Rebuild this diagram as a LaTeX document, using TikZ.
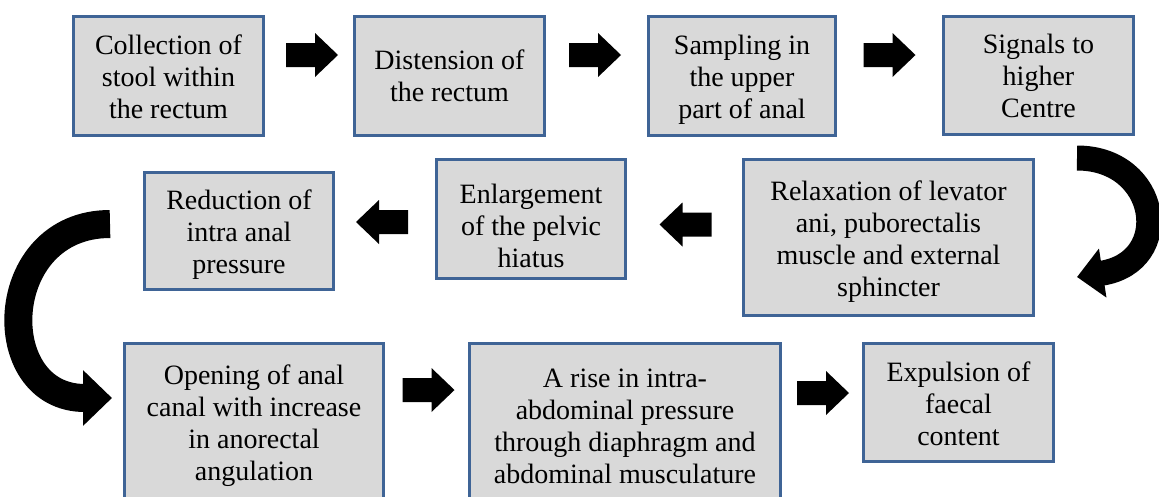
\documentclass[tikz,border=0pt]{standalone}
\usepackage{fontspec}
\setmainfont{Liberation Serif}
\usetikzlibrary{arrows.meta}
\definecolor{boxblue}{HTML}{3F6496}
\definecolor{boxgrey}{HTML}{D9D9D9}
\newcommand\firstup[1]{\rule{0pt}{#1pt}}
\tikzset{
  stepbox/.style={draw=boxblue, fill=boxgrey, line width=3pt, align=center,
    font=\fontsize{28}{32}\selectfont, inner sep=0pt},
  pics/blockarrow/.style={code={
    \fill[black] (-26,-12) -- (3,-12) -- (3,-22) -- (26,0) -- (3,22) -- (3,12) -- (-26,12) -- cycle;}},
  bentarrow/.style={black}
}
\begin{document}
\begin{tikzpicture}[x=1pt,y=-1pt]
\useasboundingbox (0,0) rectangle (1159,496);
% row 1
\node[stepbox, minimum width=190pt, minimum height=119pt] (b1) at (168.5,76)
  {\firstup{21}Collection of\\stool within\\the rectum};
\node[stepbox, minimum width=190pt, minimum height=119pt] (b2) at (449.5,76)
  {Distension of\\the rectum};
\node[stepbox, minimum width=187pt, minimum height=119pt] (b3) at (742,76)
  {\firstup{27}Sampling in\\the upper\\part of anal};
\node[stepbox, minimum width=190pt, minimum height=118pt] (b4) at (1038.5,75.5)
  {Signals to\\higher\\Centre};
% row 2
\node[stepbox, minimum width=290pt, minimum height=156pt] (b5) at (888.5,237.5)
  {\firstup{27}Relaxation of levator\\ani, puborectalis\\muscle and external\\sphincter};
\node[stepbox, minimum width=189pt, minimum height=119pt] (b6) at (531,219)
  {\firstup{34}Enlargement\\of the pelvic\\hiatus};
\node[stepbox, minimum width=189pt, minimum height=117pt] (b7) at (239,231)
  {\firstup{26}Reduction of\\intra anal\\pressure};
% row 3
\node[stepbox, minimum width=259pt, minimum height=165pt] (b8) at (254,426)
  {Opening of anal\\canal with increase\\in anorectal\\angulation};
\node[stepbox, minimum width=311pt, minimum height=165pt] (b9) at (625,426)
  {A rise in intra-\\abdominal pressure\\through diaphragm and\\abdominal musculature};
\node[stepbox, minimum width=190pt, minimum height=118pt] (b10) at (958.5,402.5)
  {\firstup{23}Expulsion of\\faecal\\content};
% straight block arrows
\pic (a1) at (312,55) {blockarrow};
\pic (a2) at (595,55) {blockarrow};
\pic (a3) at (889.5,55) {blockarrow};
\pic[rotate=180] (a5) at (685.5,224.5) {blockarrow};
\pic[rotate=180] (a6) at (382,222) {blockarrow};
\pic (a8) at (428.5,390) {blockarrow};
\pic (a9) at (823,393) {blockarrow};
% bent arrows
\coordinate (r1) at (1077,158);
\coordinate (r2) at (1077,277);
\coordinate (l1) at (110,224);
\coordinate (l2) at (112,398);
\draw[bentarrow, line width=25pt, -{Triangle[length=26pt,width=48pt]}]
  (r1) .. controls (1160,158) and (1175,262) .. (r2);
\draw[bentarrow, line width=28pt, -{Triangle[length=29pt,width=54pt]}]
  (l1) .. controls (-5,224) and (-10,398) .. (l2);
\end{tikzpicture}
\end{document}
